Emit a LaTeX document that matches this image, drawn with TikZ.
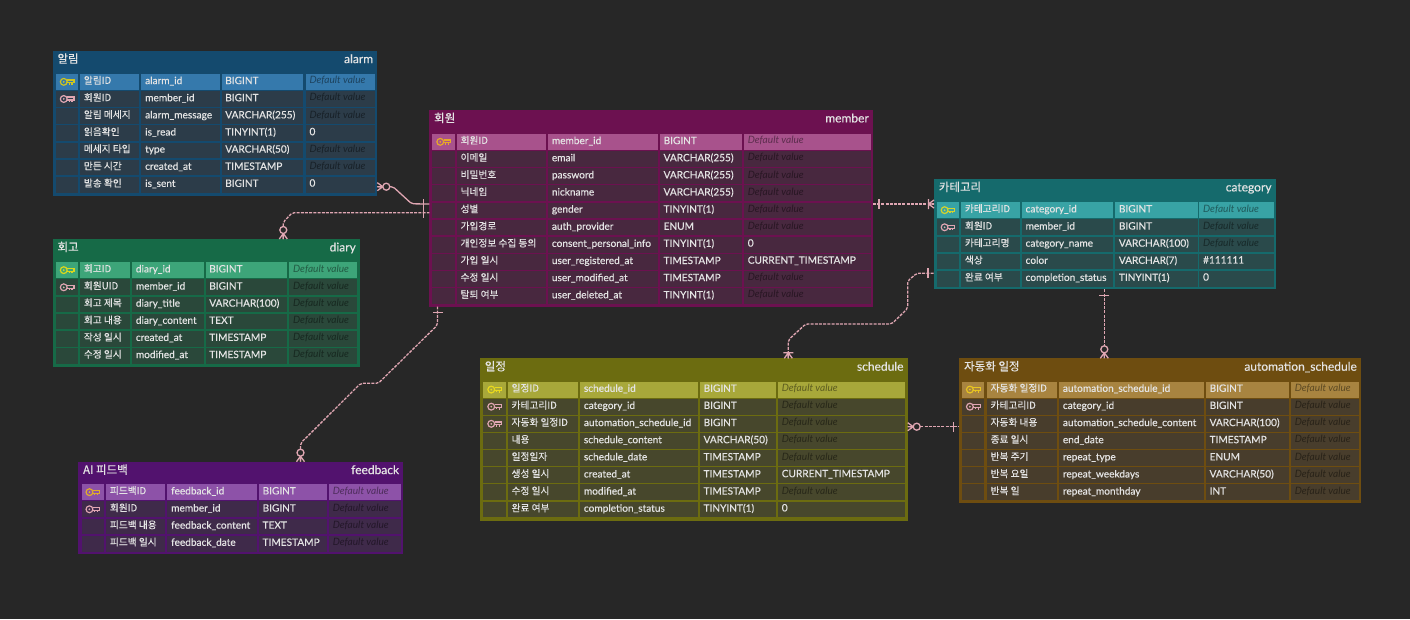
\documentclass[tikz,border=0pt]{standalone}
\usepackage{fontspec}
\usepackage{xcolor}
\setmainfont{Lato}[FakeBold=0.4]
\newfontfamily\dvfont{Lato}
\newfontfamily\krfont{Noto Sans CJK KR}[FakeBold=0.3]
\definecolor{bgdark}{HTML}{272727}
\definecolor{reltone}{HTML}{DFA6B2}
\definecolor{rowtone}{HTML}{E4E4E4}
\definecolor{alarmhead}{HTML}{144A6E}
\definecolor{alarmpk}{HTML}{3579AC}
\definecolor{alarmrow}{HTML}{2C3C49}
\definecolor{alarmkey}{HTML}{CFC520}
\definecolor{memberhead}{HTML}{6C1150}
\definecolor{memberpk}{HTML}{A8528C}
\definecolor{memberrow}{HTML}{48283F}
\definecolor{memberkey}{HTML}{E6A829}
\definecolor{categoryhead}{HTML}{156A6C}
\definecolor{categorypk}{HTML}{38A3A5}
\definecolor{categoryrow}{HTML}{2A4A4B}
\definecolor{categorykey}{HTML}{D5D32C}
\definecolor{diaryhead}{HTML}{166A47}
\definecolor{diarypk}{HTML}{3DA579}
\definecolor{diaryrow}{HTML}{2A483A}
\definecolor{diarykey}{HTML}{D9D71E}
\definecolor{feedbackhead}{HTML}{52126E}
\definecolor{feedbackpk}{HTML}{8D52A8}
\definecolor{feedbackrow}{HTML}{3F2A4A}
\definecolor{feedbackkey}{HTML}{E0AD2C}
\definecolor{schedulehead}{HTML}{6C6C10}
\definecolor{schedulepk}{HTML}{A8A83A}
\definecolor{schedulerow}{HTML}{47472C}
\definecolor{schedulekey}{HTML}{E8D81E}
\definecolor{autohead}{HTML}{6E4D10}
\definecolor{autopk}{HTML}{A88440}
\definecolor{autorow}{HTML}{483D2C}
\definecolor{autokey}{HTML}{E8C421}
\newcommand{\dv}{\color{dvcol}\dvfont\itshape Default value}
\tikzset{
	tablebox/.style={anchor=north west,inner sep=0,outer sep=0},
	rowtext/.style={anchor=base west,inner sep=0,text=rowtone,font=\fontsize{10.1}{12}\selectfont},
	krtext/.style={rowtext,font=\krfont\fontsize{9.7}{12}\selectfont},
	titletext/.style={inner sep=0,text=rowtone,font=\fontsize{12}{14}\selectfont},
	rel/.style={draw=reltone,line width=1.3pt,rounded corners=2pt,dash pattern=on 3pt off 1.2pt},
	relsolid/.style={draw=reltone,line width=1.3pt,rounded corners=2pt},
	fkkey/.style={color=reltone},
	keyicon/.pic={
		\draw[line width=1.2pt] (-3.4,0) circle (3.4);
		\fill (-3.4,0) circle (1);
		\draw[line width=1.2pt] (0,-1.9) -- (6.8,-1.9) -- (6.8,1) -- (4.8,1) -- (4.8,3) (4.8,1) -- (2,1) -- (2,2.8) (2,1) -- (0,1);
	},
	zeromany/.pic={
		\draw[reltone,line width=1.3pt] (5.5,0) -- (0,-4) (5.5,0) -- (0,4) (5.5,0) -- (0,0);
		\draw[reltone,line width=1.3pt,fill=bgdark] (9,0) circle (3.5);
	},
	onemany/.pic={
		\draw[reltone,line width=1.3pt] (5.5,0) -- (0,-4) (5.5,0) -- (0,4) (5.5,0) -- (0,0) (5.5,-5) -- (5.5,5);
	},
	onebar/.pic={
		\draw[reltone,line width=1.3pt] (6,-5) -- (6,5);
	}
}
\newcommand{\ertable}[6]{
	\foreach \xa/\ya/\xb/\yb/\yt in {#4}{
		\node[tablebox,fill=#1head,minimum width=\xb-\xa,minimum height=\yb-\ya] (#1) at (\xa,\ya) {};
		\node[titletext,anchor=base west,font=\krfont\fontsize{11.5}{14}\selectfont] (#1-kr) at (\xa+4.6,\ya+12.2) {#2};
		\node[titletext,anchor=base east] (#1-en) at (\xb-4,\ya+12.4) {#3};
		\foreach \ka/\kb/\na/\nb/\ca/\cb/\ta/\tb/\da/\db in {#5}{
			\foreach \nm/\cl/\tp/\df [count=\i] in {#6}{
				\pgfmathsetmacro\ry{\yt+(\i-1)*17.13}
				\ifnum\i=1 \colorlet{cellcol}{#1pk}\else\colorlet{cellcol}{#1row}\fi
				\colorlet{dvcol}{cellcol!55!black}
				\fill[cellcol] (\ka,\ry) rectangle (\kb,\ry+15.8);
				\fill[cellcol] (\na,\ry) rectangle (\nb,\ry+15.8);
				\fill[cellcol] (\ca,\ry) rectangle (\cb,\ry+15.8);
				\fill[cellcol] (\ta,\ry) rectangle (\tb,\ry+15.8);
				\fill[cellcol] (\da,\ry) rectangle (\db,\ry+15.8);
				\coordinate (#1-\i-key) at ({(\ka+\kb)/2},\ry+7.85);
				\node[krtext] (#1-\i-name) at (\na+3.7,\ry+9.9) {\nm};
				\node[rowtext] (#1-\i-col) at (\ca+3.7,\ry+10.1) {\cl};
				\node[rowtext] (#1-\i-type) at (\ta+3.4,\ry+10.1) {\tp};
				\node[rowtext] (#1-\i-def) at (\da+3.6,\ry+9.8) {\df};
			}
		}
	}
}
\begin{document}
\begin{tikzpicture}[x=1pt,y=-1pt]
	\path[use as bounding box,fill=bgdark] (0,0) rectangle (1410,619);

	\ertable{alarm}{알림}{alarm}{52.7/50.7/377.3/195.7/74}{56/78.3/80/139.3/141.3/220/221.7/303.3/305.7/375}{
		알림ID/alarm\_id/BIGINT/\dv,
		회원ID/member\_id/BIGINT/\dv,
		알림 메세지/alarm\_message/VARCHAR(255)/\dv,
		읽음확인/is\_read/TINYINT(1)/0,
		메세지 타입/type/VARCHAR(50)/\dv,
		만든 시간/created\_at/TIMESTAMP/\dv,
		발송 확인/is\_sent/BIGINT/0}
	\ertable{diary}{회고}{diary}{52.7/239/360/366.7/262.3}{56/78.3/80/130/132/204/205.7/287.3/289.3/357.3}{
		회고ID/diary\_id/BIGINT/\dv,
		회원UID/member\_id/BIGINT/\dv,
		회고 제목/diary\_title/VARCHAR(100)/\dv,
		회고 내용/diary\_content/TEXT/\dv,
		작성 일시/created\_at/TIMESTAMP/\dv,
		수정 일시/modified\_at/TIMESTAMP/\dv}
	\ertable{feedback}{AI 피드백}{feedback}{78.3/461.7/403.3/554.3/484.3}{81.7/104/106/165.3/167.3/257.3/259/327.3/329/400.5}{
		피드백ID/feedback\_id/BIGINT/\dv,
		회원ID/member\_id/BIGINT/\dv,
		피드백 내용/feedback\_content/TEXT/\dv,
		피드백 일시/feedback\_date/TIMESTAMP/\dv}
	\ertable{member}{회원}{member}{429.3/110/873/306.7/134}{432.3/455/456.7/546/548/658/660/741.7/744/871}{
		회원ID/member\_id/BIGINT/\dv,
		이메일/email/VARCHAR(255)/\dv,
		비밀번호/password/VARCHAR(255)/\dv,
		닉네임/nickname/VARCHAR(255)/\dv,
		성별/gender/TINYINT(1)/\dv,
		가입경로/auth\_provider/ENUM/\dv,
		개인정보 수집 동의/consent\_personal\_info/TINYINT(1)/0,
		가입 일시/user\_registered\_at/TIMESTAMP/CURRENT\_TIMESTAMP,
		수정 일시/user\_modified\_at/TIMESTAMP/\dv,
		탈퇴 여부/user\_deleted\_at/TINYINT(1)/\dv}
	\ertable{category}{카테고리}{category}{934/179/1275.7/289.3/202.3}{936.7/959.3/961/1020/1021.7/1113.3/1115.3/1197.7/1199.3/1273.5}{
		카테고리ID/category\_id/BIGINT/\dv,
		회원ID/member\_id/BIGINT/\dv,
		카테고리명/category\_name/VARCHAR(100)/\dv,
		색상/color/VARCHAR(7)/\#111111,
		완료 여부/completion\_status/TINYINT(1)/0}
	\ertable{schedule}{일정}{schedule}{480/358.3/907.7/520.7/381.7}{483.3/506/507.7/578.3/580/698.3/700/776/778/905}{
		일정ID/schedule\_id/BIGINT/\dv,
		카테고리ID/category\_id/BIGINT/\dv,
		자동화 일정ID/automation\_schedule\_id/BIGINT/\dv,
		내용/schedule\_content/VARCHAR(50)/\dv,
		일정일자/schedule\_date/TIMESTAMP/\dv,
		생성 일시/created\_at/TIMESTAMP/CURRENT\_TIMESTAMP,
		수정 일시/modified\_at/TIMESTAMP/\dv,
		완료 여부/completion\_status/TINYINT(1)/0}
	\ertable{auto}{자동화 일정}{automation\_schedule}{959.3/358.3/1361/503.3/381.7}{962.3/984.3/986.7/1056.7/1059/1204/1206/1289/1291/1359}{
		자동화 일정ID/automation\_schedule\_id/BIGINT/\dv,
		카테고리ID/category\_id/BIGINT/\dv,
		자동화 내용/automation\_schedule\_content/VARCHAR(100)/\dv,
		종료 일시/end\_date/TIMESTAMP/\dv,
		반복 주기/repeat\_type/ENUM/\dv,
		반복 요일/repeat\_weekdays/VARCHAR(50)/\dv,
		반복 일/repeat\_monthday/INT/\dv}

	\pic[color=alarmkey] at (alarm-1-key) {keyicon};
	\pic[fkkey] at (alarm-2-key) {keyicon};
	\pic[color=diarykey] at (diary-1-key) {keyicon};
	\pic[fkkey] at (diary-2-key) {keyicon};
	\pic[color=feedbackkey] at (feedback-1-key) {keyicon};
	\pic[fkkey] at (feedback-2-key) {keyicon};
	\pic[color=memberkey] at (member-1-key) {keyicon};
	\pic[color=categorykey] at (category-1-key) {keyicon};
	\pic[fkkey] at (category-2-key) {keyicon};
	\pic[color=schedulekey] at (schedule-1-key) {keyicon};
	\pic[fkkey] at (schedule-2-key) {keyicon};
	\pic[fkkey] at (schedule-3-key) {keyicon};
	\pic[color=autokey] at (auto-1-key) {keyicon};
	\pic[fkkey] at (auto-2-key) {keyicon};

	\coordinate (alarm-rel) at (alarm.east |- 0,186.7);
	\coordinate (member-alarm) at (member.west |- 0,204);
	\coordinate (diary-rel) at (diary.north -| 283.3,0);
	\coordinate (member-diary) at (member.west |- 0,212.7);
	\coordinate (feedback-rel) at (feedback.north -| 300.5,0);
	\coordinate (member-feedback) at (member.south -| 437.5,0);
	\coordinate (member-category) at (member.east |- 0,204);
	\coordinate (category-member) at (category.west |- 0,204);
	\coordinate (category-schedule) at (category.west |- 0,273.3);
	\coordinate (schedule-category) at (schedule.north -| 788.3,0);
	\coordinate (category-auto) at (category.south -| 1104.3,0);
	\coordinate (auto-category) at (auto.north -| 1104.3,0);
	\coordinate (schedule-auto) at (schedule.east |- 0,426.7);
	\coordinate (auto-schedule) at (auto.west |- 0,426.7);

	\draw[relsolid] (alarm-rel) -- (393,186.7) -- (411.7,203.8) -- (member-alarm);
	\draw[rel] (diary-rel) -- (283.3,222) -- (292.3,212.7) -- (member-diary);
	\draw[rel] (feedback-rel) -- (300.5,443.3) -- (360.7,383.3) -- (378.3,383.3) -- (437.5,325) -- (member-feedback);
	\draw[rel] (member-category) -- (category-member);
	\draw[rel] (schedule-category) -- (788.3,340) -- (805.7,324) -- (891.7,324) -- (907.7,308.3) -- (907.7,281) -- (916.7,273.3) -- (category-schedule);
	\draw[rel] (category-auto) -- (auto-category);
	\draw[rel] (schedule-auto) -- (auto-schedule);

	\pic[rotate=0] at (alarm-rel) {zeromany};
	\pic[rotate=180] at (member-alarm) {onebar};
	\pic[rotate=180] at (member-diary) {onebar};
	\pic[rotate=90] at (diary-rel) {zeromany};
	\pic[rotate=90] at (feedback-rel) {zeromany};
	\pic[rotate=-90] at (member-feedback) {onebar};
	\pic[rotate=0] at (member-category) {onebar};
	\pic[rotate=180] at (category-member) {onemany};
	\pic[rotate=180] at (category-schedule) {onebar};
	\pic[rotate=90] at (schedule-category) {onemany};
	\pic[rotate=-90] at (category-auto) {onebar};
	\pic[rotate=90] at (auto-category) {zeromany};
	\pic[rotate=0] at (schedule-auto) {zeromany};
	\pic[rotate=180] at (auto-schedule) {onebar};
\end{tikzpicture}
\end{document}
